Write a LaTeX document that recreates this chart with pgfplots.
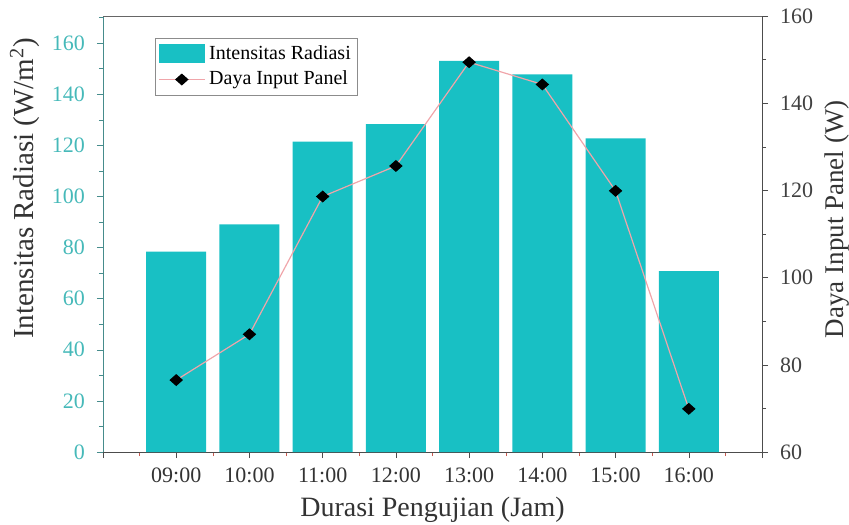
\documentclass[border=0pt]{standalone}
\usepackage{fontspec}
\setmainfont{Liberation Serif}
\usepackage{pgfplots}
\pgfplotsset{compat=1.18}
\definecolor{barcol}{RGB}{24,192,196}
\definecolor{tealtxt}{RGB}{70,185,185}
\definecolor{tealaxis}{RGB}{70,140,140}
\definecolor{pinkline}{RGB}{240,165,170}
\definecolor{minortick}{RGB}{200,90,80}
\pgfplotsset{
  mylineleg/.style={legend image code/.code={\draw[mark repeat=2,mark phase=2,##1] plot coordinates {(0cm,0cm) (0.4cm,0cm) (0.8cm,0cm)};}},
  mybarleg/.style={legend image code/.code={\fill[barcol] (0cm,-0.16cm) rectangle (0.8cm,0.16cm);}},
}
\begin{document}
\begin{tikzpicture}
\useasboundingbox (-51.5pt,-36pt) rectangle (373pt,226pt);
\begin{axis}[
  width=329.5pt, height=218pt, scale only axis,
  xmin=-1, xmax=8, ymin=0, ymax=170.6,
  axis x line*=bottom, axis y line*=left,
  x axis line style={color=black!70, -},
  y axis line style={color=tealaxis, -},
  tick align=outside,
  xtick={-1,0,1,2,3,4,5,6,7,8},
  xticklabels={,09:00,10:00,11:00,12:00,13:00,14:00,15:00,16:00,},
  minor xtick={-0.5,0.5,1.5,2.5,3.5,4.5,5.5,6.5,7.5},
  ytick={0,20,...,160},
  minor ytick={10,30,...,170},
  major tick length=3pt, minor tick length=2pt,
  x tick style={color=black!70},
  minor x tick style={color=minortick},
  y tick style={color=tealaxis},
  /pgf/number format/assume math mode=true,
  every tick label/.append style={font=\fontsize{11}{13}\selectfont},
  xticklabel style={yshift=-1.5pt, color=black!80},
  yticklabel style={xshift=-2.5pt, color=tealtxt},
  xlabel={Durasi Pengujian (Jam)},
  xlabel style={at={(axis description cs:0.5,-0.133)}, anchor=center, inner sep=0pt, font=\fontsize{14}{16}\selectfont, color=black!80},
  ylabel={Intensitas Radiasi (W/m\textsuperscript{2})},
  ylabel style={at={(axis description cs:-0.1184,0.605)}, anchor=center, inner sep=0pt, font=\fontsize{14.5}{16}\selectfont, color=black!80},
]
\addplot[ybar, bar width=0.82, fill=barcol, draw=none] coordinates {
  (0,78.4) (1,89.1) (2,121.4) (3,128.3) (4,153.0) (5,147.8) (6,122.7) (7,70.8)
};
\end{axis}
\begin{axis}[
  width=329.5pt, height=218pt, scale only axis,
  xmin=-1, xmax=8, ymin=60, ymax=160,
  axis x line*=top, axis y line*=right,
  x axis line style={color=black!60, -},
  y axis line style={color=black!70, -},
  xtick=\empty,
  tick align=outside,
  ytick={60,80,...,160},
  minor ytick={70,90,...,150},
  major tick length=3pt, minor tick length=2pt,
  y tick style={color=black!70},
  /pgf/number format/assume math mode=true,
  every tick label/.append style={font=\fontsize{11}{13}\selectfont},
  yticklabel style={xshift=2.5pt, color=black!75},
  ylabel={Daya Input Panel (W)},
  ylabel style={at={(axis description cs:1.1138,0.534)}, anchor=center, inner sep=0pt, font=\fontsize{13.5}{16}\selectfont, color=black!80},
  legend style={at={(0.079,0.95)}, anchor=north west, draw=black!45, line width=0.4pt,
    font=\fontsize{10}{11}\selectfont, inner xsep=1.5pt, inner ysep=1.5pt, row sep=0.5pt},
  legend cell align=left,
]
\addlegendimage{mybarleg}
\addlegendentry{Intensitas Radiasi}
\addplot[color=pinkline, line width=0.6pt, mark=diamond*, mark size=2.6pt,
  mark options={fill=black, draw=black, xscale=1.5}, mylineleg]
coordinates {
  (0,76.5) (1,87.0) (2,118.6) (3,125.6) (4,149.4) (5,144.3) (6,119.9) (7,69.9)
};
\addlegendentry{Daya Input Panel}
\end{axis}
\end{tikzpicture}
\end{document}
